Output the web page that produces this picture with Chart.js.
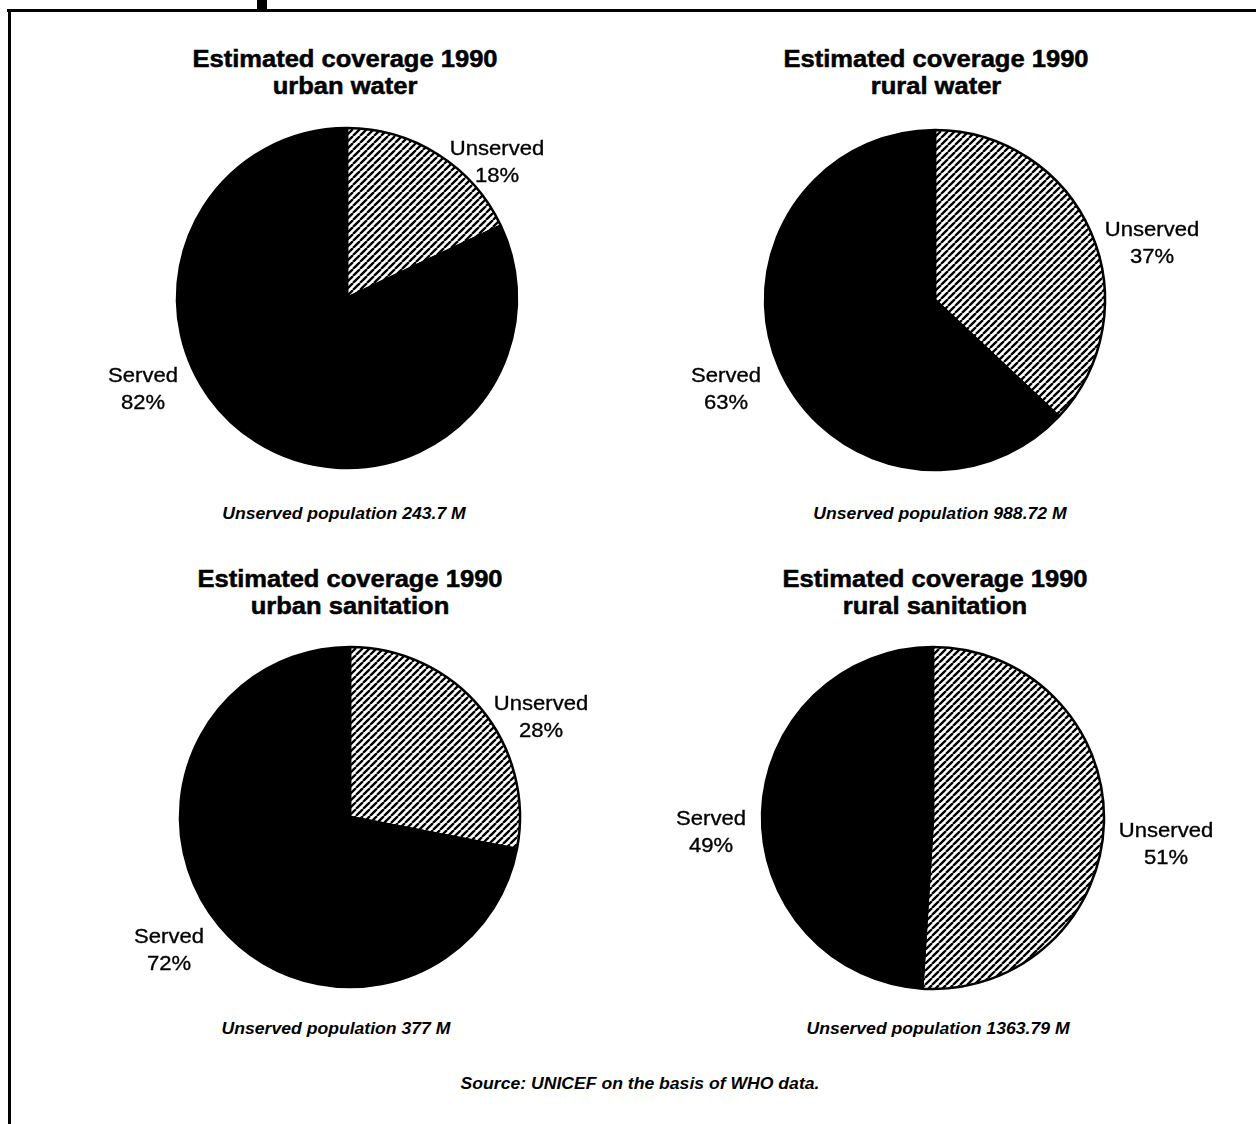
<!DOCTYPE html>
<html>
<head>
<meta charset="utf-8">
<script src="https://cdn.jsdelivr.net/npm/chart.js@4.4.1/dist/chart.umd.min.js"></script>
<style>
  html, body { margin: 0; padding: 0; background: #fff; }
  #page { position: relative; width: 1256px; height: 1124px; overflow: hidden; background: #fff; }
  .rule { position: absolute; background: #000; }
  .pie { position: absolute; }
  .txt {
    position: absolute; white-space: nowrap; color: #000;
    font-family: "Liberation Sans", Arial, Helvetica, sans-serif;
    line-height: 1;
  }
  .title { font-size: 23px; font-weight: bold; -webkit-text-stroke: 0.5px #000; }
  .label { font-size: 21px; -webkit-text-stroke: 0.35px #000; }
  .caption { font-size: 16px; font-weight: bold; font-style: italic; }
</style>
</head>
<body>
<div id="page">
  <div class="rule" style="left:7px; top:9px; width:1249px; height:3px;"></div>
  <div class="rule" style="left:8px; top:9px; width:3px; height:1115px;"></div>
  <div class="rule" style="left:257px; top:0px; width:10px; height:12px;"></div>
</div>
<script>
// Coverage estimates, 1990 (percent of population)
const headline = 'Estimated coverage 1990';
const sectors = ['urban water', 'rural water', 'urban sanitation', 'rural sanitation'];
const categories = ['Unserved', 'Served'];
const unservedPct = [18, 37, 28, 51];
const servedPct = [82, 63, 72, 49];
const unservedPopulation = ['243.7', '988.72', '377', '1363.79'];
const sourceNote = 'Source: UNICEF on the basis of WHO data.';

// Page layout for each panel: pie centre/radius and text anchor points
const panels = [
  { cx: 347, cy: 298, r: 170, titleX: 345, titleY: 59,
    un: [497, 147], sv: [143, 374], capX: 344, capY: 514 },
  { cx: 935, cy: 300, r: 170, titleX: 936, titleY: 59,
    un: [1152, 228], sv: [726, 374], capX: 940, capY: 514 },
  { cx: 350, cy: 817, r: 170, titleX: 350, titleY: 579,
    un: [541, 702], sv: [169, 935], capX: 336, capY: 1029 },
  { cx: 933, cy: 818, r: 171, titleX: 935, titleY: 579,
    un: [1166, 829], sv: [711, 817], capX: 938, capY: 1029 }
];

const page = document.getElementById('page');

function addText(cls, text, x, y, sx) {
  const d = document.createElement('div');
  d.className = 'txt ' + cls;
  d.textContent = text;
  d.style.left = x + 'px';
  d.style.top = y + 'px';
  d.style.transform = 'translate(-50%, -50%) scaleX(' + sx + ')';
  page.appendChild(d);
  return d;
}

// Diagonal hatch used for the unserved share
function hatchPattern(ctx) {
  const s = 7;
  const c = document.createElement('canvas');
  c.width = s; c.height = s;
  const g = c.getContext('2d');
  g.fillStyle = '#fff';
  g.fillRect(0, 0, s, s);
  g.strokeStyle = '#000';
  g.lineWidth = 2.3;
  g.beginPath();
  for (let k = -1; k <= 1; k++) {
    g.moveTo(k * s, s);
    g.lineTo(k * s + s, 0);
  }
  g.stroke();
  return ctx.createPattern(c, 'repeat');
}

const size = 380;
panels.forEach((p, i) => {
  const cv = document.createElement('canvas');
  cv.className = 'pie';
  cv.width = size; cv.height = size;
  cv.style.left = (p.cx - size / 2) + 'px';
  cv.style.top = (p.cy - size / 2) + 'px';
  page.appendChild(cv);
  const ctx = cv.getContext('2d');

  new Chart(ctx, {
    type: 'pie',
    data: {
      labels: categories,
      datasets: [{
        data: [unservedPct[i], servedPct[i]],
        backgroundColor: [hatchPattern(ctx), '#000'],
        borderColor: '#000',
        borderWidth: 2.5
      }]
    },
    options: {
      responsive: false,
      animation: false,
      radius: p.r,
      layout: { padding: 0 },
      plugins: { legend: { display: false }, tooltip: { enabled: false } }
    }
  });

  addText('title', headline, p.titleX, p.titleY, 1.11);
  addText('title', sectors[i], p.titleX, p.titleY + 27, 1.11);
  addText('label', categories[0], p.un[0], p.un[1], 1.05);
  addText('label', unservedPct[i] + '%', p.un[0], p.un[1] + 27, 1.05);
  addText('label', categories[1], p.sv[0], p.sv[1], 1.05);
  addText('label', servedPct[i] + '%', p.sv[0], p.sv[1] + 27, 1.05);
  addText('caption', 'Unserved population ' + unservedPopulation[i] + ' M', p.capX, p.capY, 1.1);
});

addText('caption', sourceNote, 640, 1084, 1.1);
</script>
</body>
</html>
